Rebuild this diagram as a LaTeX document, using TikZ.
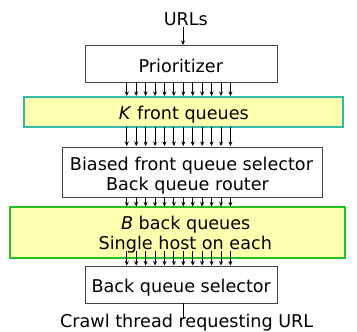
\documentclass[tikz,border=0pt]{standalone}
\usepackage{fontspec}
\setmainfont{DejaVu Sans}
\usetikzlibrary{arrows.meta}
\definecolor{queuefill}{HTML}{FFFFB0}
\definecolor{frontedge}{HTML}{33BBAA}
\definecolor{backedge}{HTML}{22C322}
\definecolor{boxedge}{HTML}{444444}
\tikzset{
  lbl/.style={inner sep=0pt, anchor=base, font=\fontsize{17.6bp}{21bp}\selectfont},
  stagebox/.style={draw=boxedge, line width=1bp, fill=white},
  frontbox/.style={draw=frontedge, line width=2bp, fill=queuefill},
  backbox/.style={draw=backedge, line width=2bp, fill=queuefill},
  feed/.style={line width=0.9bp, -{Stealth[length=4.5bp,width=4bp]}},
}
\begin{document}
\begin{tikzpicture}[x=1bp,y=-1bp]
\useasboundingbox (0,0) rectangle (357,332);

% stage boxes
\draw[stagebox] (85.5,45.5) rectangle (277,82.5);
\draw[frontbox] (24,97) rectangle (343,127);
\draw[stagebox] (62.5,147) rectangle (322.5,197);
\draw[backbox] (10,207) rectangle (345,258);
\draw[stagebox] (85.5,266) rectangle (277,303);

% labels (placed by baseline)
\node[lbl] (urls) at (185.8,25) {URLs};
\node[lbl] (prio) at (180.8,72.5) {Prioritizer};
\node[lbl] (front) at (183.8,119) {\textit{K} front queues};
\node[lbl] (sel1) at (191.5,170.5) {Biased front queue selector};
\node[lbl] (sel2) at (187.5,190.5) {Back queue router};
\node[lbl] (back1) at (185.7,229.5) {\textit{B} back queues};
\node[lbl] (back2) at (185.3,249.5) {Single host on each};
\node[lbl] (bqs) at (181.3,292.5) {Back queue selector};
\node[lbl] (crawl) at (186.7,327.5) {Crawl thread requesting URL};

% input arrow
\coordinate (in1) at (183,27);
\coordinate (in2) at (183,45);
\draw[feed] (in1) -- (in2);

% bundles of queue arrows
\foreach \k in {0,...,11}{
  \pgfmathsetmacro{\xx}{126.8+9.42*\k}
  \coordinate (a\k) at (\xx,82.5);
  \coordinate (b\k) at (\xx,96);
  \coordinate (c\k) at (\xx,127);
  \coordinate (d\k) at (\xx,146);
  \coordinate (e\k) at (\xx,197);
  \coordinate (f\k) at (\xx,206.5);
  \coordinate (g\k) at (\xx,251);
  \coordinate (h\k) at (\xx,265.5);
  \draw[feed] (a\k) -- (b\k);
  \draw[feed] (c\k) -- (d\k);
  \draw[feed] (e\k) -- (f\k);
  \draw[feed] (g\k) -- (h\k);
}

% output line
\coordinate (out1) at (183,303);
\coordinate (out2) at (183,319);
\draw[line width=1bp] (out1) -- (out2);
\end{tikzpicture}
\end{document}
